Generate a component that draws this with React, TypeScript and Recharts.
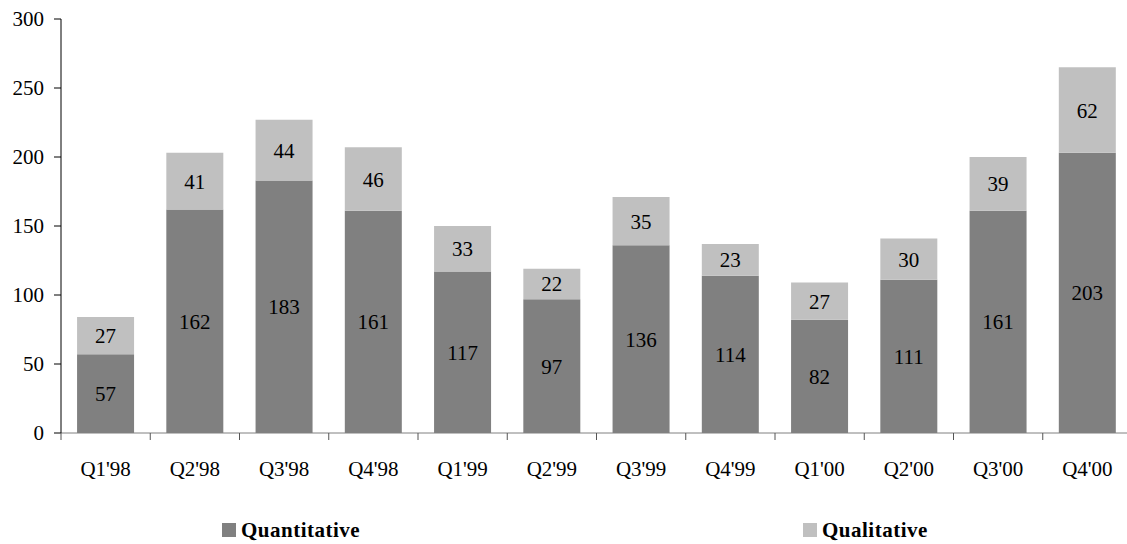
import React from 'react';
import { Bar, BarChart, LabelList, Legend, XAxis, YAxis } from 'recharts';

const quarters = ["Q1'98", "Q2'98", "Q3'98", "Q4'98", "Q1'99", "Q2'99", "Q3'99", "Q4'99", "Q1'00", "Q2'00", "Q3'00", "Q4'00"];
const quantitative = [57, 162, 183, 161, 117, 97, 136, 114, 82, 111, 161, 203];
const qualitative = [27, 41, 44, 46, 33, 22, 35, 23, 27, 30, 39, 62];
const yTicks = [0, 50, 100, 150, 200, 250, 300];

const data = quarters.map((name, i) => ({
  name,
  quantitative: quantitative[i],
  qualitative: qualitative[i],
}));

const FONT = '"Liberation Serif", "Times New Roman", serif';

function XTick(props: any) {
  const { x, y, payload, index, visibleTicksCount } = props;
  const half = payload && payload.offset ? payload.offset : 1071 / 12 / 2;
  const last = index === (visibleTicksCount ?? quarters.length) - 1;
  return (
    <g>
      <line x1={x - half} x2={x - half} y1={y} y2={y + 7} stroke="#555" strokeWidth={1} />
      {last && <line x1={x + half} x2={x + half} y1={y} y2={y + 7} stroke="#555" strokeWidth={1} />}
      <text x={x} y={y + 43} textAnchor="middle" fill="#000" fontSize={21} fontFamily={FONT}>
        {payload.value}
      </text>
    </g>
  );
}

function LegendContent() {
  const items = [
    { left: 222, color: '#808080', label: 'Quantitative' },
    { left: 803, color: '#C0C0C0', label: 'Qualitative' },
  ];
  return (
    <div style={{ position: 'relative', height: 50 }}>
      {items.map((it) => (
        <div
          key={it.label}
          style={{
            position: 'absolute',
            left: it.left,
            top: 25,
            height: 22,
            display: 'flex',
            alignItems: 'center',
            fontFamily: FONT,
            fontWeight: 'bold',
            fontSize: 21,
            letterSpacing: 0.5,
            color: '#000',
            whiteSpace: 'nowrap',
          }}
        >
          <span style={{ display: 'inline-block', width: 14, height: 14, background: it.color, marginRight: 5 }} />
          {it.label}
        </div>
      ))}
    </div>
  );
}

export default function App() {
  return (
    <div style={{ position: 'absolute', left: 0, top: 0, width: 1127, height: 544, overflow: 'hidden', background: '#fff' }}>
      <BarChart
        width={1132}
        height={544}
        data={data}
        margin={{ top: 19, right: 0, left: 0, bottom: 0 }}
        barCategoryGap="18%"
        style={{ fontFamily: FONT }}
      >
        <XAxis
          dataKey="name"
          height={61}
          axisLine={{ stroke: '#808080' }}
          tickLine={false}
          tickSize={0}
          tickMargin={0}
          interval={0}
          tick={<XTick />}
        />
        <YAxis
          width={61}
          domain={[0, 300]}
          ticks={yTicks}
          interval={0}
          axisLine={{ stroke: '#000' }}
          tickLine={{ stroke: '#000' }}
          tickSize={7}
          tickMargin={10}
          tick={{ fill: '#000', fontSize: 21, fontFamily: FONT }}
        />
        <Legend
          verticalAlign="bottom"
          height={50}
          content={<LegendContent />}
          wrapperStyle={{ left: 0, bottom: 0, width: 1132, height: 50 }}
        />
        <Bar dataKey="quantitative" stackId="a" fill="#808080" isAnimationActive={false}>
          <LabelList dataKey="quantitative" position="center" fill="#000" fontSize={21} fontFamily={FONT} />
        </Bar>
        <Bar dataKey="qualitative" stackId="a" fill="#C0C0C0" isAnimationActive={false}>
          <LabelList dataKey="qualitative" position="center" fill="#000" fontSize={21} fontFamily={FONT} />
        </Bar>
      </BarChart>
    </div>
  );
}
